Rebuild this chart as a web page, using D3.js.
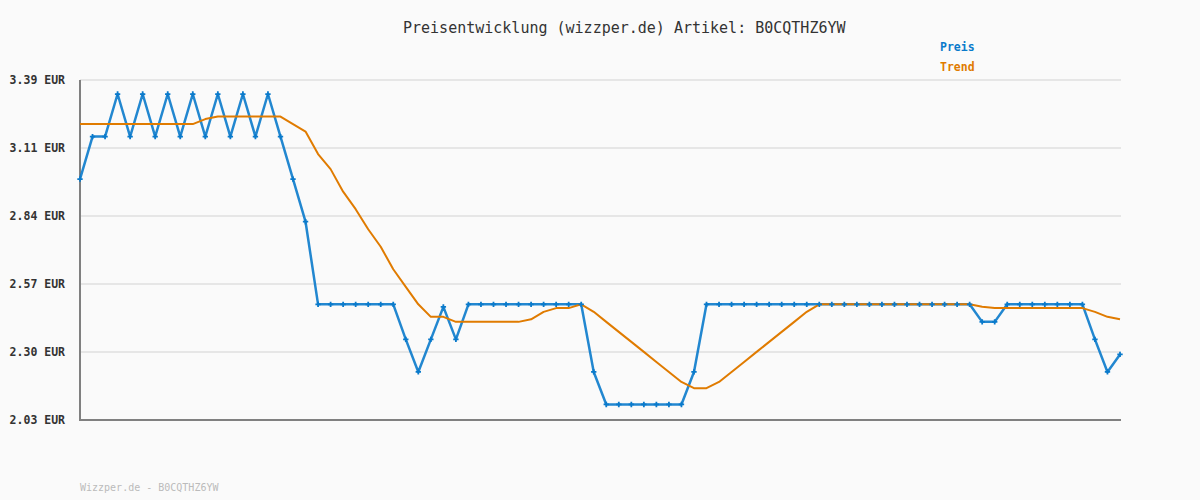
<!DOCTYPE html>
<html>
<head>
<meta charset="utf-8">
<script src="https://cdn.jsdelivr.net/npm/d3@7"></script>
<style>
  html, body { margin: 0; padding: 0; background: #fafafa; }
  svg { display: block; }
</style>
</head>
<body>
<svg id="chart" width="1200" height="500"></svg>
<script>
// ---- data ----
const titleText = "Preisentwicklung (wizzper.de) Artikel: B0CQTHZ6YW";
const footerText = "Wizzper.de - B0CQTHZ6YW";
const seriesNames = ["Preis", "Trend"];

const price = [
  2.99, 3.16, 3.16, 3.33, 3.16, 3.33, 3.16, 3.33, 3.16, 3.33,
  3.16, 3.33, 3.16, 3.33, 3.16, 3.33, 3.16, 2.99, 2.82, 2.49,
  2.49, 2.49, 2.49, 2.49, 2.49, 2.49, 2.35, 2.22, 2.35, 2.48,
  2.35, 2.49, 2.49, 2.49, 2.49, 2.49, 2.49, 2.49, 2.49, 2.49,
  2.49, 2.22, 2.09, 2.09, 2.09, 2.09, 2.09, 2.09, 2.09, 2.22,
  2.49, 2.49, 2.49, 2.49, 2.49, 2.49, 2.49, 2.49, 2.49, 2.49,
  2.49, 2.49, 2.49, 2.49, 2.49, 2.49, 2.49, 2.49, 2.49, 2.49,
  2.49, 2.49, 2.42, 2.42, 2.49, 2.49, 2.49, 2.49, 2.49, 2.49,
  2.49, 2.35, 2.22, 2.29
];

const trend = [
  3.21, 3.21, 3.21, 3.21, 3.21, 3.21, 3.21, 3.21, 3.21, 3.21,
  3.23, 3.24, 3.24, 3.24, 3.24, 3.24, 3.24, 3.21, 3.18, 3.09,
  3.03, 2.94, 2.87, 2.79, 2.72, 2.63, 2.56, 2.49, 2.44, 2.44,
  2.42, 2.42, 2.42, 2.42, 2.42, 2.42, 2.43, 2.46, 2.475, 2.475,
  2.49, 2.46, 2.42, 2.38, 2.34, 2.30, 2.26, 2.22, 2.18, 2.155,
  2.155, 2.18, 2.22, 2.26, 2.30, 2.34, 2.38, 2.42, 2.46, 2.49,
  2.49, 2.49, 2.49, 2.49, 2.49, 2.49, 2.49, 2.49, 2.49, 2.49,
  2.49, 2.49, 2.48, 2.475, 2.475, 2.475, 2.475, 2.475, 2.475, 2.475,
  2.475, 2.46, 2.44, 2.43
];

const categories = price.map((_, i) => i);
const yMin = 2.028, yMax = 3.386;
const tickLabels = ["2.03", "2.30", "2.57", "2.84", "3.11", "3.39"];

// ---- layout ----
const svg = d3.select("#chart");
const plotLeft = 80, plotRight = 1120, plotTop = 80, plotBottom = 420;
const blue = "#0a7acb", orange = "#e07b00";
const mono = "'DejaVu Sans Mono', 'Liberation Mono', monospace";

svg.append("rect").attr("width", 1200).attr("height", 500).attr("fill", "#fafafa");

const x = d3.scaleLinear().domain([0, categories.length - 1]).range([plotLeft, plotRight]);
const y = d3.scaleLinear().domain([yMin, yMax]).range([plotBottom, plotTop]);
const tickVals = tickLabels.map((_, i) => yMin + i * (yMax - yMin) / (tickLabels.length - 1));

// grid
svg.append("g").selectAll("line").data(tickVals).join("line")
  .attr("x1", plotLeft).attr("x2", plotRight + 1)
  .attr("y1", d => y(d)).attr("y2", d => y(d))
  .attr("stroke", "#e6e6e6").attr("stroke-width", 2);

// y axis labels
const yAxis = d3.axisLeft(y).tickValues(tickVals)
  .tickFormat((d, i) => tickLabels[i] + " EUR").tickSize(0).tickPadding(15);
const gy = svg.append("g").attr("transform", `translate(${plotLeft},0)`).call(yAxis);
gy.select(".domain").remove();
gy.selectAll("text")
  .attr("font-family", mono).attr("font-size", "11.5px").attr("font-weight", "bold")
  .attr("fill", "#333");

// axes lines
svg.append("line").attr("x1", plotLeft).attr("x2", plotLeft).attr("y1", plotTop).attr("y2", plotBottom)
  .attr("stroke", "#808080").attr("stroke-width", 2);
svg.append("line").attr("x1", plotLeft - 1).attr("x2", plotRight + 1).attr("y1", plotBottom).attr("y2", plotBottom)
  .attr("stroke", "#808080").attr("stroke-width", 2);

// lines
const line = d3.line().x((d, i) => x(categories[i])).y(d => y(d));
svg.append("path").datum(price).attr("d", line)
  .attr("fill", "none").attr("stroke", blue).attr("stroke-width", 2.5)
  .attr("stroke-linejoin", "round").attr("opacity", 0.9);
svg.append("path").datum(trend).attr("d", line)
  .attr("fill", "none").attr("stroke", orange).attr("stroke-width", 2)
  .attr("stroke-linejoin", "round");

// markers
svg.append("g").selectAll("path").data(price).join("path")
  .attr("d", d3.symbol().type(d3.symbolCross).size(16))
  .attr("transform", (d, i) => `translate(${x(categories[i])},${y(d)})`)
  .attr("fill", blue);

// title
svg.append("text").attr("x", 403).attr("y", 33).text(titleText)
  .attr("font-family", mono).attr("font-size", "15px").attr("fill", "#333");

// legend
const legendColors = [blue, orange];
svg.append("g").selectAll("text").data(seriesNames).join("text")
  .attr("x", 940).attr("y", (d, i) => 51 + i * 20)
  .text(d => d)
  .attr("font-family", mono).attr("font-size", "11.5px").attr("font-weight", "bold")
  .attr("fill", (d, i) => legendColors[i]);

// footer
svg.append("text").attr("x", 80).attr("y", 491).text(footerText)
  .attr("font-family", mono).attr("font-size", "10px").attr("fill", "#bbb");
</script>
</body>
</html>
